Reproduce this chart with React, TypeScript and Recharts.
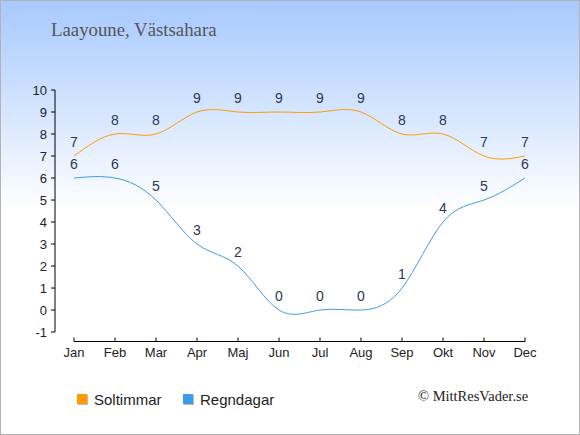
import { LineChart, Line, XAxis, YAxis, ReferenceLine, LabelList } from "recharts";

const MONTHS = ["Jan", "Feb", "Mar", "Apr", "Maj", "Jun", "Jul", "Aug", "Sep", "Okt", "Nov", "Dec"];
const SOLTIMMAR = [7, 8, 8, 9, 9, 9, 9, 9, 8, 8, 7, 7];
const REGNDAGAR = [6, 6, 5, 3, 2, 0, 0, 0, 1, 4, 5, 6];
const Y_TICKS = [-1, 0, 1, 2, 3, 4, 5, 6, 7, 8, 9, 10];

const ORANGE = "#ff9a00";
const BLUE = "#3d9be9";
const X_MIN = -19 / 41;
const Y_MIN = -1.43;

const data = MONTHS.map((m, i) => ({ idx: i, month: m, sol: SOLTIMMAR[i], regn: REGNDAGAR[i] }));

function MonthTick(props: any) {
  const { x, y, payload } = props;
  return (
    <g>
      <line x1={x} x2={x} y1={y - 4} y2={y} stroke="#000" />
      <text x={x} y={y + 15.5} textAnchor="middle" fontSize={13} fill="#222" fontFamily="Liberation Sans, Arial, sans-serif">
        {MONTHS[payload.value]}
      </text>
    </g>
  );
}

function LegendItem({ color, label, left }: { color: string; label: string; left: number }) {
  return (
    <div style={{ position: "absolute", left, top: 390, height: 18, display: "flex", alignItems: "center" }}>
      <div style={{ width: 10, height: 10, background: color, boxShadow: "1px 1px 0 #bbb", marginRight: 7 }} />
      <span style={{ fontFamily: "Liberation Sans, Arial, sans-serif", fontSize: 15, color: "#222" }}>{label}</span>
    </div>
  );
}

export default function App() {
  return (
    <div
      style={{
        position: "absolute",
        top: 0,
        left: 0,
        width: 580,
        height: 435,
        background: "linear-gradient(to bottom, #a6c9ff 0px, #ffffff 210px)",
        boxShadow: "inset 0 0 0 1px #b3b3b3",
        overflow: "hidden",
      }}
    >
      <div
        style={{
          position: "absolute",
          left: 51,
          top: 19,
          fontFamily: "Liberation Serif, Times New Roman, serif",
          fontSize: 18.8,
          color: "#555",
          whiteSpace: "nowrap",
        }}
      >
        Laayoune, Västsahara
      </div>
      <div style={{ position: "absolute", top: 0, left: 0 }}>
        <LineChart width={580} height={435} data={data} margin={{ top: 90, right: 55, left: 0, bottom: 0 }}>
          <XAxis
            type="number"
            dataKey="idx"
            domain={[X_MIN, 11]}
            ticks={[0, 1, 2, 3, 4, 5, 6, 7, 8, 9, 10, 11]}
            allowDataOverflow
            height={93.5}
            axisLine={false}
            tickLine={false}
            tickSize={0}
            tickMargin={0}
            tick={<MonthTick />}
            interval={0}
          />
          <YAxis
            type="number"
            domain={[Y_MIN, 10]}
            ticks={Y_TICKS}
            allowDataOverflow
            width={55}
            axisLine={false}
            tickLine={{ stroke: "#000" }}
            tickSize={4}
            tickMargin={4}
            interval={0}
            tick={{ fontSize: 13, fill: "#222", fontFamily: "Liberation Sans, Arial, sans-serif" }}
          />
          <ReferenceLine
            segment={[{ x: X_MIN, y: -1 }, { x: X_MIN, y: 10 }]}
            stroke="#000"
            ifOverflow="visible"
          />
          <ReferenceLine
            segment={[{ x: 0, y: Y_MIN }, { x: 11, y: Y_MIN }]}
            stroke="#000"
            ifOverflow="visible"
          />
          <Line type="natural" dataKey="sol" stroke={ORANGE} strokeWidth={1} dot={false} isAnimationActive={false}>
            <LabelList dataKey="sol" position="top" offset={9} fontSize={14} fill="#2a3752" fontFamily="Liberation Sans, Arial, sans-serif" />
          </Line>
          <Line type="natural" dataKey="regn" stroke={BLUE} strokeWidth={1} dot={false} isAnimationActive={false}>
            <LabelList dataKey="regn" position="top" offset={9} fontSize={14} fill="#2a3752" fontFamily="Liberation Sans, Arial, sans-serif" />
          </Line>
        </LineChart>
      </div>
      <LegendItem color={ORANGE} label="Soltimmar" left={77} />
      <LegendItem color={BLUE} label="Regndagar" left={183} />
      <div
        style={{
          position: "absolute",
          left: 418,
          top: 388,
          fontFamily: "Liberation Serif, Times New Roman, serif",
          fontSize: 14.5,
          color: "#222",
          whiteSpace: "nowrap",
        }}
      >
        © MittResVader.se
      </div>
    </div>
  );
}
